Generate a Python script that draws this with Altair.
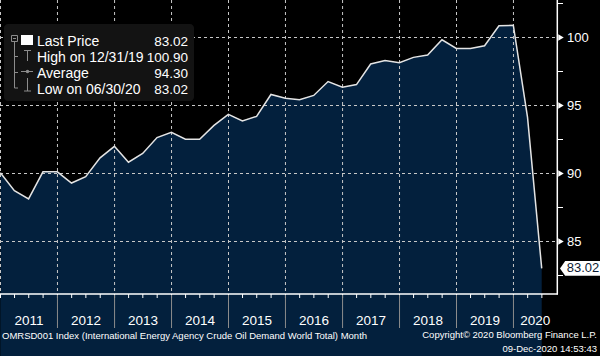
import altair as alt
import pandas as pd

# ---------------- data ----------------
dates = [
    "2010-12-31",
    "2011-03-31", "2011-06-30", "2011-09-30", "2011-12-31",
    "2012-03-31", "2012-06-30", "2012-09-30", "2012-12-31",
    "2013-03-31", "2013-06-30", "2013-09-30", "2013-12-31",
    "2014-03-31", "2014-06-30", "2014-09-30", "2014-12-31",
    "2015-03-31", "2015-06-30", "2015-09-30", "2015-12-31",
    "2016-03-31", "2016-06-30", "2016-09-30", "2016-12-31",
    "2017-03-31", "2017-06-30", "2017-09-30", "2017-12-31",
    "2018-03-31", "2018-06-30", "2018-09-30", "2018-12-31",
    "2019-03-31", "2019-06-30", "2019-09-30", "2019-12-31",
    "2020-03-31", "2020-06-30",
]
values = [
    90.05,
    88.73, 88.13, 90.12, 90.12,
    89.30, 89.77, 91.15, 92.00,
    90.83, 91.47, 92.64, 93.03,
    92.52, 92.52, 93.54, 94.35,
    93.86, 94.20, 95.81, 95.54,
    95.42, 95.74, 96.76, 96.34,
    96.54, 98.05, 98.30, 98.15,
    98.54, 98.71, 99.83, 99.20,
    99.20, 99.39, 100.86, 100.90,
    94.15, 83.02,
]
years = [2011, 2012, 2013, 2014, 2015, 2016, 2017, 2018, 2019, 2020]
y_ticks = [85, 90, 95, 100]
y_minor = [82.5, 87.5, 92.5, 97.5, 102.5]
legend_labels = ["Last Price", "High on 12/31/19", "Average", "Low on 06/30/20"]
legend_values = ["83.02", "100.90", "94.30", "83.02"]
last_value = [83.02]
last_label = ["83.02"]
footer_left = "OMRSD001 Index (International Energy Agency Crude Oil Demand World Total)  Month"
footer_right = ["Copyright\u00a9 2020 Bloomberg Finance L.P.", "09-Dec-2020 14:53:43"]

# ---------------- layout of the scales ----------------
W, H = 557, 294
px_per_day = 57 / 365.25                      # one year ~ 57 px
t0 = pd.Timestamp("2011-01-01") - pd.Timedelta(days=0.5 / px_per_day)
t1 = t0 + pd.Timedelta(days=W / px_per_day)
x_domain = [int(t0.value // 10**6), int(t1.value // 10**6)]
px_per_unit = 13.6
y_top = 100 + 37.5 / px_per_unit
y_domain = [y_top - H / px_per_unit, y_top]

# ---------------- tables ----------------
df = pd.DataFrame({"date": dates, "value": values})

mids = []
for y in years:
    s = pd.Timestamp(f"{y}-01-01")
    e = min(pd.Timestamp(f"{y + 1}-01-01"), t1)
    mids.append(s + (e - s) / 2)
year_df = pd.DataFrame({"date": [f"{y}-01-01" for y in years]})
label_df = pd.DataFrame({
    "mid": [d.strftime("%Y-%m-%dT%H:%M:%SZ") for d in mids],
    "year": [str(y) for y in years],
})
sep_df = pd.DataFrame({"date": [f"{y}-01-01" for y in years[1:]]})
quarter_df = pd.DataFrame({"date": [f"{y}-{m:02d}-01" for y in years for m in (1, 4, 7, 10)
                                    if not (y == 2020 and m == 10)]})

grid_df = pd.DataFrame({"value": y_ticks})
major_df = pd.DataFrame({"value": y_ticks, "label": [str(v) for v in y_ticks]})
minor_df = pd.DataFrame({"value": y_minor})
last_df = pd.DataFrame({"value": last_value, "label": last_label})
one = pd.DataFrame({"a": [0]})

FONT = "Liberation Sans"
GRID = "#c8c8c8"
ICON = "#8c8c8c"

xscale = alt.Scale(type="utc", domain=x_domain)
yscale = alt.Scale(domain=y_domain, nice=False, zero=False)


def X(field):
    return alt.X(field, scale=xscale, axis=None)


def Y(field):
    return alt.Y(field, scale=yscale, axis=None)


base = alt.Chart(df)

area = base.mark_area(color="#03203d").encode(
    x=X("date:T"), y=Y("value:Q"), y2=alt.value(H))

vgrid = alt.Chart(year_df).mark_rule(
    color=GRID, strokeDash=[3, 3], strokeWidth=1).encode(
    x=X("date:T"), y=alt.value(0), y2=alt.value(H))
hgrid = alt.Chart(grid_df).mark_rule(
    color=GRID, strokeDash=[3, 3], strokeWidth=1).encode(
    y=Y("value:Q"), x=alt.value(0), x2=alt.value(W))

line = base.mark_line(color="#e4e4e4", strokeWidth=1.5).encode(
    x=X("date:T"), y=Y("value:Q"))

# axes drawn by hand
right_dom = alt.Chart(one).mark_rule(color="white", strokeWidth=1.5).encode(
    x=alt.value(557.3), x2=alt.value(557.3), y=alt.value(0), y2=alt.value(294.5))
bottom_dom = alt.Chart(one).mark_rule(color="white", strokeWidth=1.5).encode(
    x=alt.value(0), x2=alt.value(558), y=alt.value(294), y2=alt.value(294))
qticks = alt.Chart(quarter_df).mark_rule(color="white", strokeWidth=1).encode(
    x=X("date:T"), y=alt.value(294), y2=alt.value(298))
tri = alt.Chart(major_df).mark_point(
    shape="triangle-right", filled=True, color="white", size=40, opacity=1).encode(
    x=alt.value(561), y=Y("value:Q"))
minor = alt.Chart(minor_df).mark_rule(color="white", strokeWidth=1).encode(
    x=alt.value(557), x2=alt.value(563), y=Y("value:Q"))
ylabels = alt.Chart(major_df).mark_text(
    font=FONT, fontSize=13, color="white", align="left", baseline="middle").encode(
    x=alt.value(567), y=Y("value:Q"), text="label:N")

tag_path = "M-1,0 L-0.74,-0.37 L1,-0.37 L1,0.37 L-0.74,0.37 Z"
tag = alt.Chart(last_df).mark_point(
    shape=tag_path, size=1600, filled=True, fill="white", strokeWidth=0, opacity=1).encode(
    x=alt.value(580), y=Y("value:Q"))
tag_text = alt.Chart(last_df).mark_text(
    font=FONT, fontSize=13, color="#0b1a33", align="center", baseline="middle").encode(
    x=alt.value(583), y=Y("value:Q"), text="label:N")

year_text = alt.Chart(label_df).mark_text(
    font=FONT, fontSize=13.5, color="white", baseline="middle").encode(
    x=X("mid:T"), y=alt.value(321), text="year:N")
seps = alt.Chart(sep_df).mark_rule(color="#8c8c8c", strokeWidth=1).encode(
    x=X("date:T"), y=alt.value(295), y2=alt.value(328))

# legend
leg_box = alt.Chart(one).mark_rect(fill="#131313", cornerRadius=4).encode(
    x=alt.value(4), x2=alt.value(194), y=alt.value(24), y2=alt.value(101))
leg_labels = alt.Chart(one).mark_text(
    font=FONT, fontSize=14, color="white", align="left", baseline="alphabetic",
    lineBreak="\n", lineHeight=16).encode(
    x=alt.value(37), y=alt.value(45.5), text=alt.value("\n".join(legend_labels)))
leg_vals = alt.Chart(one).mark_text(
    font=FONT, fontSize=13.5, color="white", align="right", baseline="alphabetic",
    lineBreak="\n", lineHeight=16).encode(
    x=alt.value(188), y=alt.value(45.5), text=alt.value("\n".join(legend_values)))


def seg(x1, y1, x2, y2, color=ICON, w=1):
    return alt.Chart(one).mark_rule(color=color, strokeWidth=w).encode(
        x=alt.value(x1), y=alt.value(y1), x2=alt.value(x2), y2=alt.value(y2))


icons = [
    alt.Chart(one).mark_rect(fill="#131313", stroke=ICON, strokeWidth=1).encode(
        x=alt.value(11.5), x2=alt.value(17.5), y=alt.value(35.5), y2=alt.value(41.5)),
    seg(13, 38.5, 16, 38.5),
    alt.Chart(one).mark_rect(fill="white").encode(
        x=alt.value(21), x2=alt.value(33), y=alt.value(35), y2=alt.value(45)),
    seg(14.5, 42, 14.5, 88),
    seg(14.5, 56.5, 18, 56.5),
    seg(14.5, 72.5, 18, 72.5),
    seg(14.5, 88, 18, 88),
    seg(27.5, 50.5, 27.5, 61),
    seg(24, 50.5, 31, 50.5),
    seg(21, 71.5, 33, 71.5),
    alt.Chart(one).mark_point(shape="circle", filled=True, color=ICON, size=12, opacity=1).encode(
        x=alt.value(27.5), y=alt.value(71.5)),
    seg(27.5, 78, 27.5, 91),
    seg(24, 91, 31, 91),
]

foot_left = alt.Chart(one).mark_text(
    font=FONT, fontSize=9.5, color="white", align="left", baseline="middle").encode(
    x=alt.value(2), y=alt.value(336), text=alt.value(footer_left))
foot_r1 = alt.Chart(one).mark_text(
    font=FONT, fontSize=9.5, color="white", align="right", baseline="middle").encode(
    x=alt.value(597), y=alt.value(335), text=alt.value(footer_right[0]))
foot_r2 = alt.Chart(one).mark_text(
    font=FONT, fontSize=9.5, color="white", align="right", baseline="middle").encode(
    x=alt.value(597), y=alt.value(349), text=alt.value(footer_right[1]))

chart = alt.layer(
    area, vgrid, hgrid, line, right_dom, bottom_dom, qticks, tri, minor, ylabels,
    tag, tag_text, year_text, seps,
    leg_box, leg_labels, leg_vals, *icons, foot_left, foot_r1, foot_r2,
).properties(
    width=W, height=H,
    padding={"left": 0, "top": 0, "right": 43, "bottom": 62},
    autosize=alt.AutoSizeParams(type="none"),
    background="black",
).configure_view(stroke=None)

chart.save("out.html", embed_options={"renderer": "svg", "actions": False})
